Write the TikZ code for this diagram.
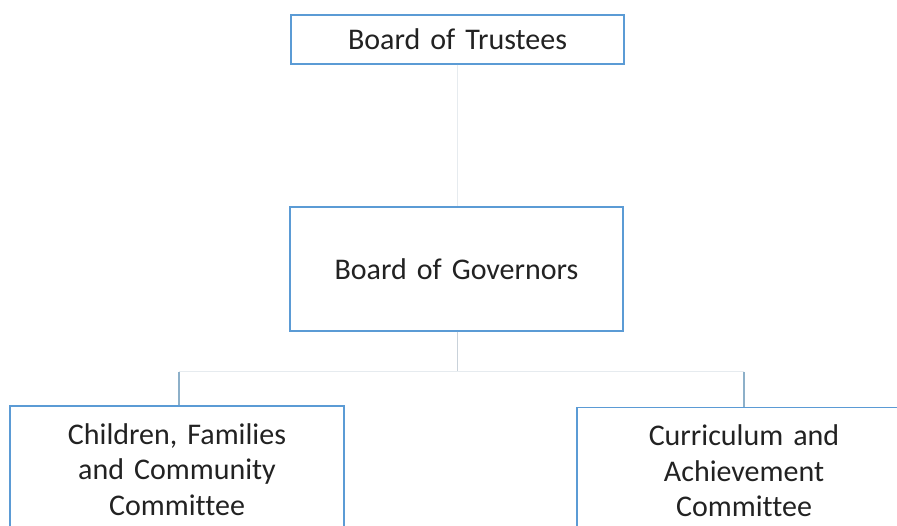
\documentclass[tikz,border=0pt]{standalone}
\usepackage{fontspec}
\setmainfont[Ligatures=NoCommon]{Carlito}
\definecolor{boxblue}{HTML}{5B9BD5}
\definecolor{txt}{HTML}{222222}
\definecolor{faint}{HTML}{E6EBEF}
\definecolor{stub}{HTML}{8DB0C9}
\definecolor{midstub}{HTML}{C9D2DA}
\begin{document}
\begin{tikzpicture}[x=1pt,y=1pt,
  orgbox/.style={draw=boxblue,line width=1.3pt,fill=white,text=txt,inner sep=0pt,
    font=\fontsize{30}{35.5}\selectfont,align=center,text width=300pt},
  faintline/.style={draw=faint,line width=1pt},
  stubline/.style={draw=stub,line width=1.2pt}]
\useasboundingbox (0,0) rectangle (897,-526);
\clip (0,0) rectangle (897,-526);
\coordinate (jc) at (457.5,-372);
\coordinate (jl) at (179,-372);
\coordinate (jr) at (744,-372);
\node[orgbox,minimum width=333pt,minimum height=49pt] (tr) at (457.5,-39.5) {Board of Trustees};
\node[orgbox,minimum width=333pt,minimum height=124pt] (gov) at (456.5,-269) {Board of Governors};
\node[orgbox,minimum width=334pt,minimum height=127pt] (c1) at (177,-469.5) {Children, Families\\and Community\\Committee};
\node[orgbox,minimum width=334pt,minimum height=127pt] (c2) at (744,-471) {Curriculum and\\Achievement\\Committee};
\draw[faintline] (tr.south -| jc) -- (gov.north -| jc);
\draw[draw=midstub,line width=1pt] (gov.south -| jc) -- (jc);
\draw[faintline] (jl) -- (jr);
\draw[stubline] (jl) -- (c1.north -| jl);
\draw[stubline] (jr) -- (c2.north -| jr);
\end{tikzpicture}
\end{document}
